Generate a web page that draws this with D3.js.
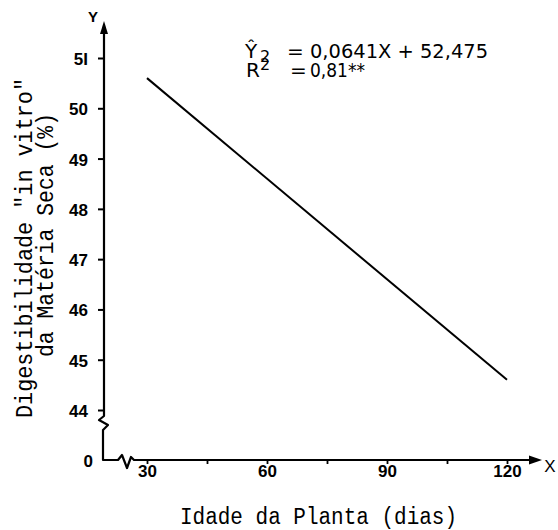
<!DOCTYPE html>
<html><head><meta charset="utf-8">
<script src="https://cdn.jsdelivr.net/npm/d3@7"></script>
<style>body{margin:0;background:#fff}svg{display:block}</style>
</head><body>
<svg id="c" width="558" height="530"></svg>
<script>
const xTicks = [30, 45, 60, 75, 90, 105, 120];
const xTickLabels = ["30", "", "60", "", "90", "", "120"];
const yTicks = [44, 45, 46, 47, 48, 49, 50, 51];
const yTickLabels = ["44", "45", "46", "47", "48", "49", "50", "5I"];
const lineX = [30, 120];
const lineY = [50.6, 44.6];
const xTitle = "Idade da Planta (dias)";
const yTitle1 = "Digestibilidade \"in vitro\"";
const yTitle2 = "da Matéria Seca (%)";

const svg = d3.select("#c");
const ox = 104, oy = 460;
const x = d3.scaleLinear().domain([30, 120]).range([147, 507]);
const y = d3.scaleLinear().domain([44, 51]).range([410, 58]);

const tickFont = "'Liberation Sans', Arial, sans-serif";
const mono = "'Liberation Mono', 'DejaVu Sans Mono', monospace";
const eqFont = "'DejaVu Sans', sans-serif";

// axis lines with breaks
svg.append("path")
  .attr("d", `M${ox},30 L${ox},416 L99,420 L108,425 L103,430 L103,${oy} L118,${oy} L122,455 L127,468 L131,457 L134,${oy} L534,${oy}`)
  .attr("fill", "none").attr("stroke", "#000").attr("stroke-width", 2.2).attr("stroke-linejoin", "round");
// arrows
svg.append("path").attr("d", `M${ox},21 L${ox-4},34 L${ox+4},34 Z`).attr("fill", "#000");
svg.append("path").attr("d", `M542,${oy} L529,${oy-4.5} L529,${oy+4.5} Z`).attr("fill", "#000");

// y axis ticks
const yAxis = d3.axisLeft(y).tickValues(yTicks).tickSize(6).tickPadding(10)
  .tickFormat((d, i) => yTickLabels[i]);
const gy = svg.append("g").attr("transform", `translate(${ox},0)`).call(yAxis);
gy.select(".domain").remove();
gy.selectAll("line").attr("stroke-width", 2).attr("x2", -6).attr("x1", 1);
gy.selectAll("text").attr("font-family", tickFont).attr("font-weight", "bold").attr("font-size", 17).attr("fill", "#000").attr("dy", "0.38em");

// zero label
svg.append("text").attr("x", 93).attr("y", 467).attr("text-anchor", "end")
  .attr("font-family", tickFont).attr("font-weight", "bold").attr("font-size", 17).text("0");

// x axis ticks
const xAxis = d3.axisBottom(x).tickValues(xTicks).tickSize(4).tickPadding(1)
  .tickFormat((d, i) => xTickLabels[i]);
const gx = svg.append("g").attr("transform", `translate(0,${oy})`).call(xAxis);
gx.select(".domain").remove();
gx.selectAll("line").attr("stroke-width", 1.8).attr("y1", -1);
gx.selectAll("text").attr("font-family", tickFont).attr("font-weight", "bold").attr("font-size", 17).attr("fill", "#000");

// regression line
svg.append("path")
  .attr("d", d3.line().x(d => x(d[0])).y(d => y(d[1]))(lineX.map((v, i) => [v, lineY[i]])))
  .attr("fill", "none").attr("stroke", "#000").attr("stroke-width", 2);

// axis letters
svg.append("text").attr("x", 93).attr("y", 22).attr("text-anchor", "middle")
  .attr("font-family", tickFont).attr("font-weight", "bold").attr("font-size", 15).text("Y");
svg.append("text").attr("x", 550).attr("y", 472).attr("text-anchor", "middle")
  .attr("font-family", tickFont).attr("font-size", 17).text("X");

// axis titles
svg.append("text").attr("x", 180).attr("y", 524).attr("font-family", mono).attr("font-size", 23)
  .attr("textLength", 277).attr("lengthAdjust", "spacingAndGlyphs").text(xTitle);
svg.append("text").attr("transform", "translate(32,418) rotate(-90)").attr("font-family", mono).attr("font-size", 23)
  .attr("textLength", 340).attr("lengthAdjust", "spacingAndGlyphs").text(yTitle1);
svg.append("text").attr("transform", "translate(53,357) rotate(-90)").attr("font-family", mono).attr("font-size", 23)
  .attr("textLength", 244).attr("lengthAdjust", "spacingAndGlyphs").text(yTitle2);

// equation (one multi-line text block)
const eq = svg.append("text").attr("font-family", eqFont).attr("font-size", 20).attr("fill", "#000");
eq.append("tspan").attr("x", 245).attr("y", 58).text("Ŷ");
eq.append("tspan").attr("x", 260).attr("y", 62).attr("font-size", 16).text("2");
eq.append("tspan").attr("x", 287).attr("y", 58).text("=");
eq.append("tspan").attr("x", 310).attr("y", 58).attr("textLength", 178).attr("lengthAdjust", "spacingAndGlyphs").text("0,0641X + 52,475");
eq.append("tspan").attr("x", 246).attr("y", 77).text("R");
eq.append("tspan").attr("x", 260).attr("y", 70).attr("font-size", 16).text("2");
eq.append("tspan").attr("x", 290).attr("y", 77).text("=");
eq.append("tspan").attr("x", 310).attr("y", 77).attr("textLength", 55).attr("lengthAdjust", "spacingAndGlyphs").text("0,81**");
</script>
</body></html>
